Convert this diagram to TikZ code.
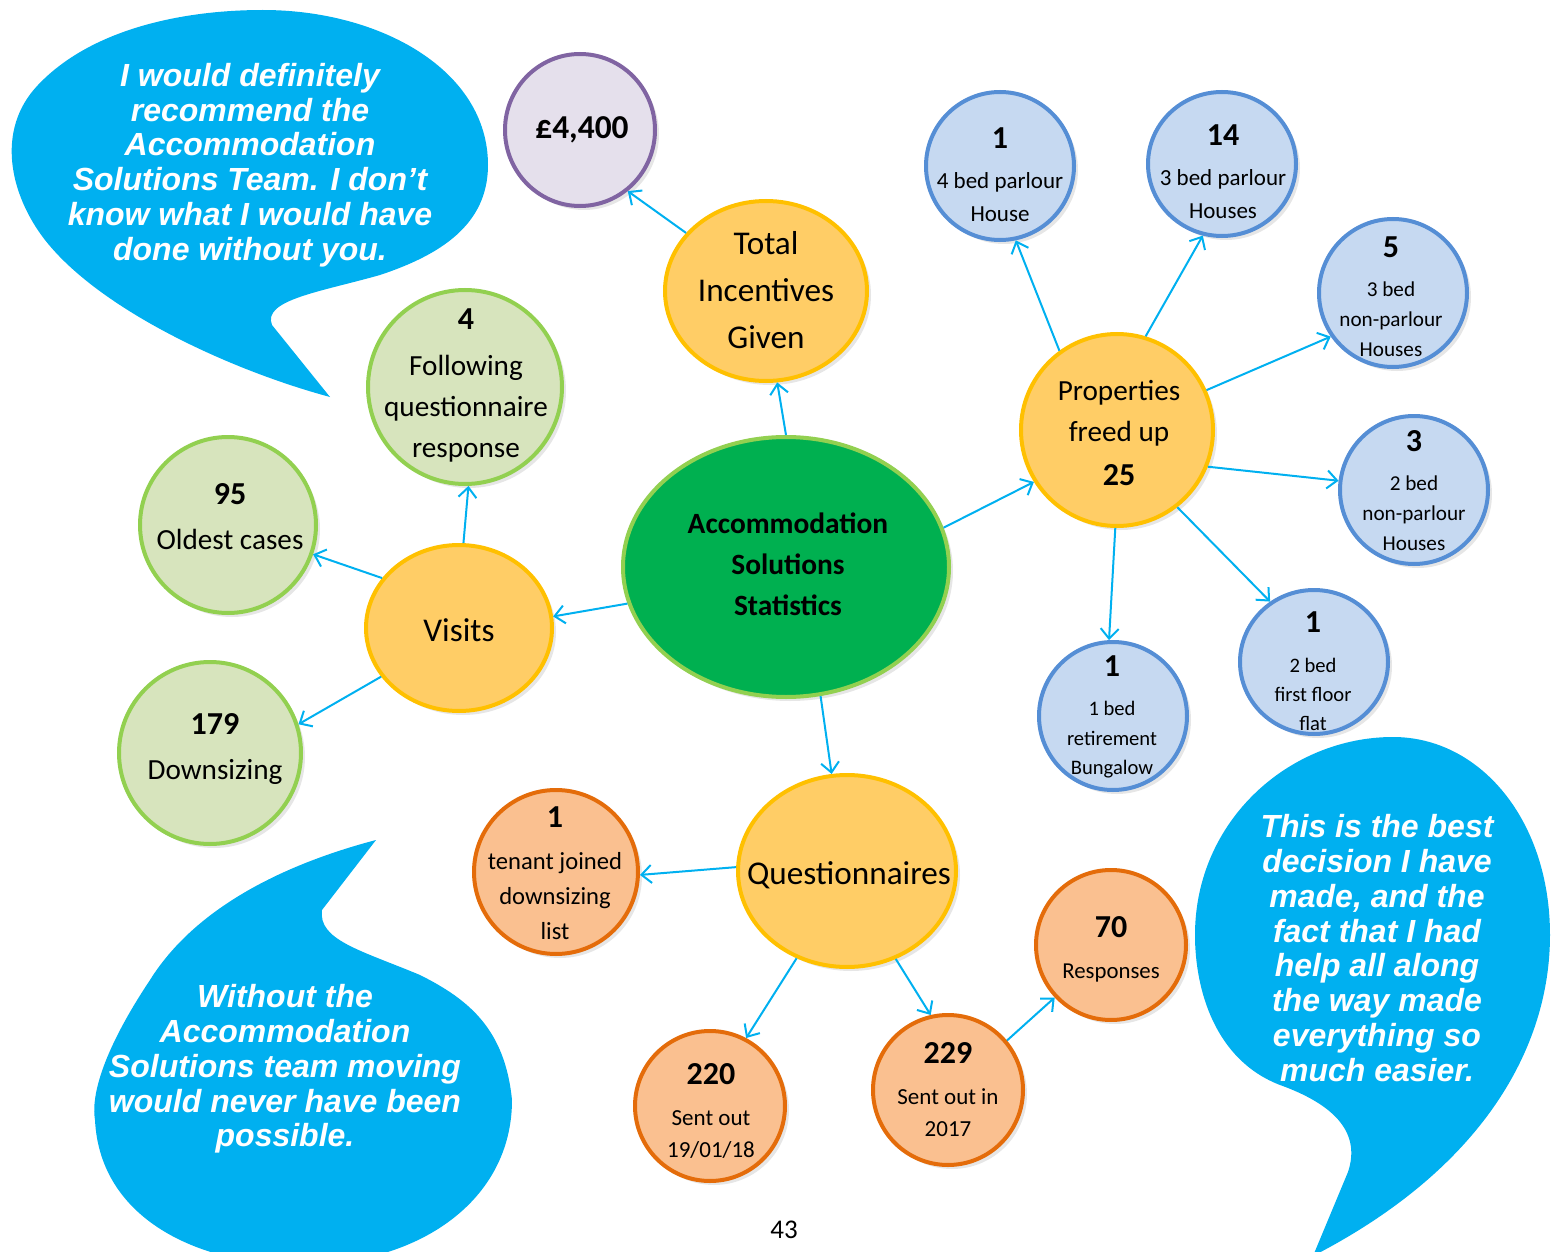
\documentclass[tikz,border=0pt]{standalone}
\usepackage{fontspec}
\setmainfont{Carlito}
\newfontfamily\quotefont{Liberation Sans}
\usetikzlibrary{arrows.meta,shapes.geometric,shadows}

\definecolor{sky}{HTML}{00B0F0}
\definecolor{sun}{HTML}{FFCD66}
\definecolor{sunline}{HTML}{FFC000}
\definecolor{sage}{HTML}{D7E4BD}
\definecolor{sageline}{HTML}{92D050}
\definecolor{ice}{HTML}{C6D9F1}
\definecolor{iceline}{HTML}{558ED5}
\definecolor{peach}{HTML}{FAC090}
\definecolor{peachline}{HTML}{E46C0A}
\definecolor{lilac}{HTML}{E5E0EC}
\definecolor{lilacline}{HTML}{8064A2}
\definecolor{leaf}{HTML}{00B050}

\newcommand\sz[2]{\fontsize{#1}{#2}\selectfont}
\newcommand\bignum[1]{{\sz{16}{16}\bfseries #1}}

\tikzset{
    every picture/.style={
        x=0.5pt,y=-0.5pt,>={Straight Barb[length=5pt,width=9pt]},
        disc/.style={ellipse,inner sep=0pt,line width=2pt,
            drop shadow={opacity=.2,shadow xshift=2pt,shadow yshift=-2pt}},
        hub/.style={disc,fill=leaf,draw=sageline},
        warm/.style={disc,fill=sun,draw=sunline},
        green/.style={disc,fill=sage,draw=sageline},
        blue/.style={disc,fill=ice,draw=iceline},
        orange/.style={disc,fill=peach,draw=peachline},
        purple/.style={disc,fill=lilac,draw=lilacline},
        txt/.style={align=center,inner sep=0pt},
        quote/.style={txt,text=white,font=\quotefont\bfseries\itshape\sz{16}{17.4}},
        link/.style={->,draw=sky,line width=1pt}
    }
}

\begin{document}
\begin{tikzpicture}
    \useasboundingbox (0,0) rectangle (1555,1252);

    % speech bubbles
    \fill[sky] (330,397) .. controls (230,370) and (100,310) .. (45,240)
        .. controls (10,195) and (-5,130) .. (38,85)
        .. controls (90,30) and (180,10) .. (263,10)
        .. controls (380,10) and (488,70) .. (488,165)
        .. controls (488,225) and (440,255) .. (380,275)
        .. controls (320,292) and (262,300) .. (272,325) -- cycle;
    \fill[sky] (1313,1256) -- (1348,1172)
        .. controls (1362,1130) and (1330,1103) .. (1280,1085)
        .. controls (1215,1060) and (1195,990) .. (1195,935)
        .. controls (1195,820) and (1290,737) .. (1393,737)
        .. controls (1480,737) and (1550,820) .. (1550,935)
        .. controls (1550,1050) and (1480,1170) .. (1313,1256) -- cycle;
    \fill[sky] (376,840) .. controls (300,860) and (200,900) .. (150,980)
        .. controls (110,1040) and (90,1090) .. (95,1120)
        .. controls (100,1220) and (200,1265) .. (300,1265)
        .. controls (420,1265) and (512,1200) .. (512,1100)
        .. controls (505,1030) and (470,1000) .. (420,975)
        .. controls (360,950) and (318,940) .. (322,910) -- cycle;
    \node[quote] (q1) at (250,165) {I would definitely\\recommend the\\Accommodation\\Solutions Team. I don’t\\know what I would have\\done without you.};
    \node[quote] (q2) at (1377,948) {This is the best\\decision I have\\made, and the\\fact that I had\\help all along\\the way made\\everything so\\much easier.};
    \node[quote] (q3) at (285,1069) {Without the\\Accommodation\\Solutions team moving\\would never have been\\possible.};

    % circles
    \node[hub,minimum width=163pt,minimum height=130pt] (ctr) at (786,567) {};
    \node[purple,minimum width=75pt,minimum height=76pt] (pnd) at (580,130) {};
    \node[warm,minimum width=101pt,minimum height=90pt] (tot) at (766,291) {};
    \node[green,minimum width=97pt,minimum height=97pt] (fol) at (465,387) {};
    \node[green,minimum width=88pt,minimum height=88pt] (old) at (228,525) {};
    \node[warm,minimum width=93pt,minimum height=83pt] (vis) at (459,628) {};
    \node[green,minimum width=91pt,minimum height=91pt] (dwn) at (210,753) {};
    \node[warm,minimum width=96pt,minimum height=96pt] (prp) at (1117,430) {};
    \node[blue,minimum width=74pt,minimum height=74pt] (b4) at (1000,166) {};
    \node[blue,minimum width=74pt,minimum height=72pt] (b3p) at (1222,164) {};
    \node[blue,minimum width=74pt,minimum height=74pt] (b3n) at (1393,293) {};
    \node[blue,minimum width=74pt,minimum height=74pt] (b2n) at (1414,490) {};
    \node[blue,minimum width=74pt,minimum height=72pt] (fl) at (1314,662) {};
    \node[blue,minimum width=74pt,minimum height=74pt] (bg) at (1113,716) {};
    \node[warm,minimum width=109pt,minimum height=96pt] (qst) at (847,871) {};
    \node[orange,minimum width=82pt,minimum height=82pt] (ten) at (556,872) {};
    \node[orange,minimum width=75pt,minimum height=75pt] (s18) at (710,1106) {};
    \node[orange,minimum width=75pt,minimum height=75pt] (s17) at (948,1090) {};
    \node[orange,minimum width=75pt,minimum height=75pt] (rsp) at (1111,945) {};

    % texts
    \node[txt,font=\sz{14.7}{20.5}\bfseries] (ctr-t) at (788,564) {Accommodation\\Solutions\\Statistics};
    \node[txt,font=\sz{16.7}{18}\bfseries] (pnd-t) at (582,130) {£4,400};
    \node[txt,font=\sz{16.6}{23.5}] (tot-t) at (766,290) {Total\\Incentives\\Given};
    \node[txt,font=\sz{14.6}{20.5}] (fol-t) at (466,385) {\bignum{4}\\[2.5pt]Following\\questionnaire\\response};
    \node[txt,font=\sz{14.6}{20.5}] (old-t) at (230,517) {\bignum{95}\\[2pt]Oldest cases};
    \node[txt,font=\sz{16.6}{23.5}] (vis-t) at (459,630) {Visits};
    \node[txt,font=\sz{14.6}{20.5}] (dwn-t) at (215,749) {\bignum{179}\\[2pt]Downsizing};
    \node[txt,font=\sz{14.6}{20.5}] (prp-t) at (1119,433) {Properties\\freed up\\[1.5pt]\bignum{25}};
    \node[txt,font=\sz{11.5}{16.5}] (b4-t) at (1000,175) {\bignum{1}\\[3.5pt]4 bed parlour\\House};
    \node[txt,font=\sz{11.5}{16.5}] (b3p-t) at (1223,172) {\bignum{14}\\[3.5pt]3 bed parlour\\Houses};
    \node[txt,font=\sz{10.6}{15}] (b3n-t) at (1391,297) {\bignum{5}\\[4.5pt]3 bed\\non-parlour\\Houses};
    \node[txt,font=\sz{10.6}{15}] (b2n-t) at (1414,491) {\bignum{3}\\[4.5pt]2 bed\\non-parlour\\Houses};
    \node[txt,font=\sz{10.3}{14.5}] (fl-t) at (1313,671) {\bignum{1}\\[5.5pt]2 bed\\first floor\\flat};
    \node[txt,font=\sz{10.3}{14.7}] (bg-t) at (1112,717) {\bignum{1}\\[5pt]1 bed\\retirement\\Bungalow};
    \node[txt,font=\sz{16.6}{23.5}] (qst-t) at (849,875) {Questionnaires};
    \node[txt,font=\sz{12.3}{17.5}] (ten-t) at (555,873) {\bignum{1}\\[3.5pt]tenant joined\\downsizing\\list};
    \node[txt,font=\sz{11.5}{16}] (s18-t) at (711,1111) {\bignum{220}\\[4.5pt]Sent out\\19/01/18};
    \node[txt,font=\sz{11.5}{16}] (s17-t) at (948,1090) {\bignum{229}\\[4.5pt]Sent out in\\2017};
    \node[txt,font=\sz{11.4}{16}] (rsp-t) at (1111,949) {\bignum{70}\\[4.5pt]Responses};

    % connectors
    \draw[link] (ctr.90) -- (tot.-83);
    \draw[link] (tot.144) -- (pnd.-52);
    \draw[link] (ctr.193) -- (vis.7);
    \draw[link] (vis.87) -- (fol.-88);
    \draw[link] (vis.147) -- (old.-19);
    \draw[link] (vis.212) -- (dwn.18);
    \draw[link] (ctr.14) -- (prp.212);
    \draw[link] (ctr.-75) -- (qst.99);
    \draw[link] (prp.126) -- (b4.-78);
    \draw[link] (prp.73) -- (b3p.-105);
    \draw[link] (prp.24) -- (b3n.215);
    \draw[link] (prp.-22) -- (b2n.173);
    \draw[link] (prp.-52) -- (fl.126);
    \draw[link] (prp.-91) -- (bg.93);
    \draw[link] (qst.178) -- (ten.-2);
    \draw[link] (qst.-120) -- (s18.62);
    \draw[link] (qst.-61) -- (s17.103);
    \draw[link] (s17.40) -- (rsp.223);

    \node[font=\sz{13.5}{16}] (pg) at (784,1230) {43};
\end{tikzpicture}
\end{document}
